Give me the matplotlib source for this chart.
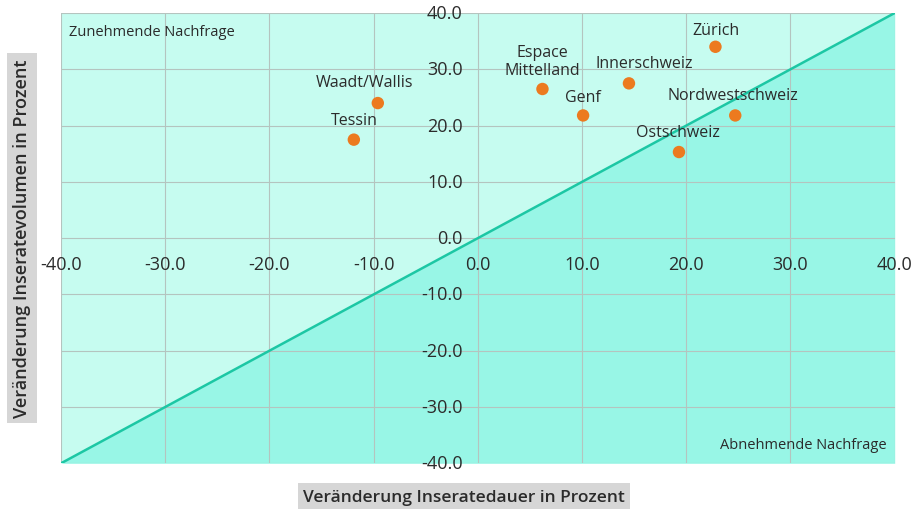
import matplotlib.pyplot as plt
import numpy as np

plt.rcParams['font.family'] = ['Open Sans', 'DejaVu Sans']

# Veränderung Inseratedauer (x) und Inseratevolumen (y) je Region, in Prozent
regions = ["Zürich", "Espace\nMittelland", "Innerschweiz", "Genf",
           "Nordwestschweiz", "Ostschweiz", "Waadt/Wallis", "Tessin"]
dauer = [22.8, 6.2, 14.5, 10.1, 24.7, 19.3, -9.6, -11.9]
volumen = [34.0, 26.5, 27.5, 21.8, 21.8, 15.3, 24.0, 17.5]

ticks = [-40.0, -30.0, -20.0, -10.0, 0.0, 10.0, 20.0, 30.0, 40.0]
lim = (-40, 40)

# label offsets in pixels (dx, dy) relative to the dot
offsets = {
    "Zürich": (0, 9), "Espace\nMittelland": (0, 11), "Innerschweiz": (15, 12),
    "Genf": (0, 10), "Nordwestschweiz": (-2, 12), "Ostschweiz": (-1, 12),
    "Waadt/Wallis": (-13, 13), "Tessin": (0, 12),
}

C_UPPER = "#c6fcf0"
C_LOWER = "#98f6e6"
C_LINE = "#1cc7a4"
C_DOT = "#ec7a1f"
C_TEXT = "#2b2b2b"

fig = plt.figure(figsize=(9.16, 5.10), dpi=100)
ax = fig.add_axes([61 / 916, 1 - 464.3 / 510, (894.7 - 61) / 916, (464.3 - 14) / 510])

# two demand zones split by the diagonal
xs = np.array(lim, dtype=float)
ax.fill_between(xs, xs, lim[1], color=C_UPPER, lw=0, zorder=0)
ax.fill_between(xs, lim[0], xs, color=C_LOWER, lw=0, zorder=0)
ax.plot(xs, xs, color=C_LINE, lw=1.8, zorder=2)

ax.set_xlim(lim)
ax.set_ylim(lim)
ax.set_xticks(ticks)
ax.set_yticks(ticks)
ax.grid(True, color="#b4c4bf", lw=0.8, zorder=1)
ax.set_axisbelow(True)

for s in ax.spines.values():
    s.set_visible(False)
ax.tick_params(length=0)
ax.set_xticklabels([])
ax.set_yticklabels([])

# tick labels sit along the zero lines
for t in ticks:
    ax.annotate(f"{t:.1f}", (t, 0), xytext=(0, -17), textcoords="offset pixels",
                ha="center", va="top", fontsize=13, color=C_TEXT, zorder=5)
    ax.annotate(f"{t:.1f}", (0, t), xytext=(-15, 0), textcoords="offset pixels",
                ha="right", va="center", fontsize=13, color=C_TEXT, zorder=5)

ax.scatter(dauer, volumen, s=80, color=C_DOT, edgecolor="none", zorder=4)
for name, x, y in zip(regions, dauer, volumen):
    dx, dy = offsets[name]
    ax.annotate(name, (x, y), xytext=(dx, dy), textcoords="offset pixels",
                ha="center", va="bottom", fontsize=11.5, color=C_TEXT,
                linespacing=1.15, zorder=5)

ax.text(0.01, 0.975, "Zunehmende Nachfrage", transform=ax.transAxes,
        ha="left", va="top", fontsize=10.5, color=C_TEXT)
ax.text(0.99, 0.025, "Abnehmende Nachfrage", transform=ax.transAxes,
        ha="right", va="bottom", fontsize=10.5, color=C_TEXT)

box = dict(facecolor="#d6d6d6", edgecolor="none", pad=4)
fig.text(464 / 916, 1 - 498 / 510, "Veränderung Inseratedauer in Prozent",
         ha="center", va="center", fontsize=12.5, fontweight="semibold",
         color=C_TEXT, bbox=box)
fig.text(22 / 916, 1 - 239 / 510, "Veränderung Inseratevolumen in Prozent",
         ha="center", va="center", rotation=90, fontsize=13,
         fontweight="semibold", color=C_TEXT, bbox=box)

fig.savefig("out.png", dpi=100)
